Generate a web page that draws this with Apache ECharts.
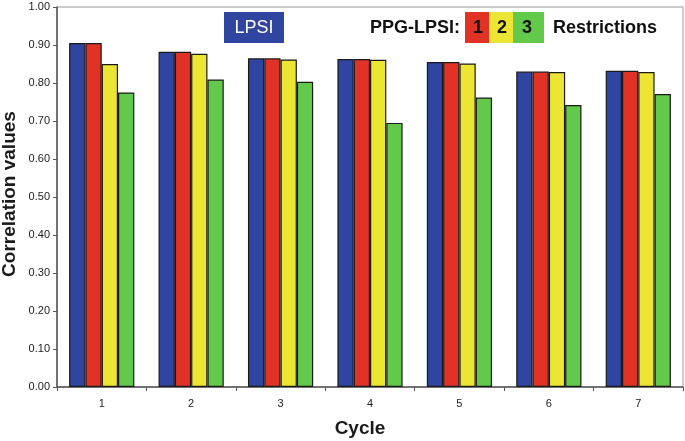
<!DOCTYPE html>
<html><head><meta charset="utf-8">
<script src="https://cdn.jsdelivr.net/npm/echarts@6/dist/echarts.min.js"></script>
<style>html,body{margin:0;padding:0;background:#fff}#c{width:685px;height:441px}</style>
</head><body><div id="c"></div>
<script>
var categories = ['1','2','3','4','5','6','7'];
var lpsi = [0.905, 0.882, 0.865, 0.863, 0.855, 0.830, 0.832];
var ppg1 = [0.905, 0.882, 0.865, 0.863, 0.855, 0.830, 0.832];
var ppg2 = [0.850, 0.877, 0.862, 0.861, 0.851, 0.829, 0.829];
var ppg3 = [0.775, 0.809, 0.803, 0.695, 0.762, 0.742, 0.771];
var seriesNames = ['LPSI', 'PPG-LPSI 1', 'PPG-LPSI 2', 'PPG-LPSI 3'];
var colors = ['#2f45a0', '#e03325', '#ece533', '#62c94b'];

var chart = echarts.init(document.getElementById('c'), null, {renderer: 'canvas'});
var font = 'Liberation Sans, Arial, sans-serif';
function mk(name, data, color) {
  return {
    name: name, type: 'bar', data: data, barWidth: 16.3, barGap: '0%',
    itemStyle: {color: color, borderColor: '#1a1a1a', borderWidth: 1.2},
    emphasis: {disabled: true}
  };
}
chart.setOption({
  animation: false,
  grid: {left: 57, right: 2, top: 7, bottom: 54, show: true, borderColor: '#999', borderWidth: 1,
    containLabel: false, outerBoundsMode: 'none'},
  xAxis: {
    type: 'category', data: categories,
    axisLine: {lineStyle: {color: '#555', width: 1.5}},
    axisTick: {show: true, length: 4, lineStyle: {color: '#555'}},
    axisLabel: {color: '#222', fontFamily: font, fontSize: 11, margin: 11},
    name: 'Cycle', nameLocation: 'middle', nameGap: 32,
    nameTextStyle: {fontFamily: font, fontSize: 19, fontWeight: 'bold', color: '#1a1a1a', padding: [0, 20, 0, 0]}
  },
  yAxis: {
    type: 'value', min: 0, max: 1, interval: 0.1,
    axisLine: {show: true, lineStyle: {color: '#555', width: 1.5}},
    axisTick: {show: true, length: 4, lineStyle: {color: '#555'}},
    splitLine: {show: false},
    axisLabel: {color: '#222', fontFamily: font, fontSize: 11, margin: 7,
      formatter: function (v) { return v.toFixed(2); }}
  },
  series: [mk(seriesNames[0], lpsi, colors[0]), mk(seriesNames[1], ppg1, colors[1]),
           mk(seriesNames[2], ppg2, colors[2]), mk(seriesNames[3], ppg3, colors[3])],
  graphic: [
    {type: 'text', x: 10, y: 194, rotation: Math.PI / 2,
      style: {text: 'Correlation values', fill: '#1a1a1a', font: 'bold 19px ' + font, align: 'center', verticalAlign: 'middle'}},
    {type: 'rect', shape: {x: 224, y: 12, width: 60, height: 31}, style: {fill: colors[0]}},
    {type: 'text', x: 254, y: 28, style: {text: 'LPSI', fill: '#fff', font: '18px ' + font, align: 'center', verticalAlign: 'middle'}},
    {type: 'text', x: 460, y: 28, style: {text: 'PPG-LPSI:', fill: '#111', font: 'bold 18px ' + font, align: 'right', verticalAlign: 'middle'}},
    {type: 'rect', shape: {x: 465, y: 12, width: 24, height: 31}, style: {fill: colors[1]}},
    {type: 'rect', shape: {x: 489, y: 12, width: 24, height: 31}, style: {fill: colors[2]}},
    {type: 'rect', shape: {x: 513, y: 12, width: 31, height: 31}, style: {fill: colors[3]}},
    {type: 'text', x: 478, y: 28, style: {text: '1', fill: '#111', font: 'bold 18px ' + font, align: 'center', verticalAlign: 'middle'}},
    {type: 'text', x: 502, y: 28, style: {text: '2', fill: '#111', font: 'bold 18px ' + font, align: 'center', verticalAlign: 'middle'}},
    {type: 'text', x: 527, y: 28, style: {text: '3', fill: '#111', font: 'bold 18px ' + font, align: 'center', verticalAlign: 'middle'}},
    {type: 'text', x: 553, y: 28, style: {text: 'Restrictions', fill: '#111', font: 'bold 18px ' + font, align: 'left', verticalAlign: 'middle'}}
  ]
});
</script></body></html>
